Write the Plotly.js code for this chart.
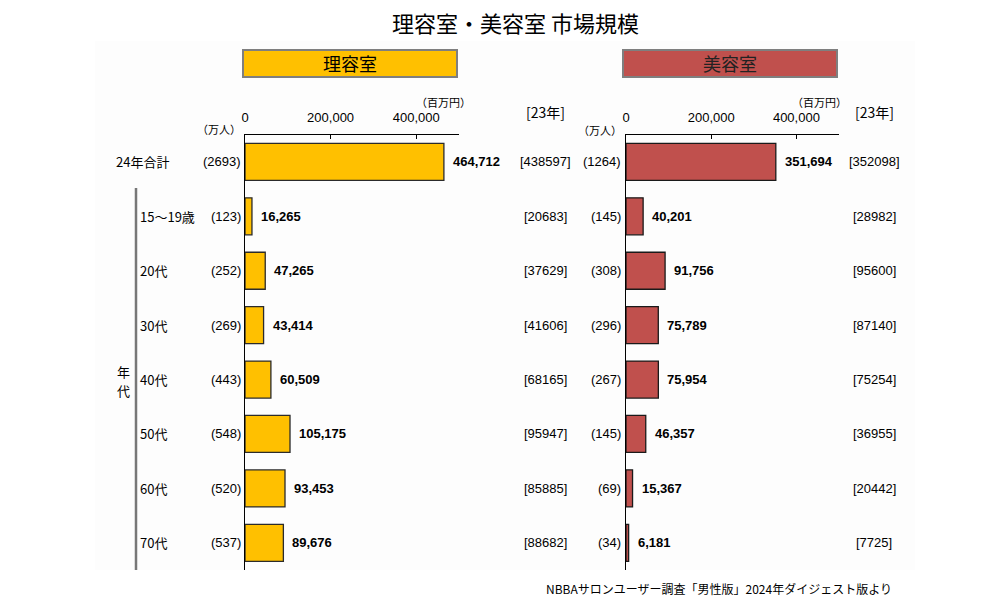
<!DOCTYPE html>
<html><head><meta charset="utf-8">
<script src="https://cdn.plot.ly/plotly-3.0.1.min.js"></script>
<style>html,body{margin:0;padding:0;background:#fff}#chart{width:1000px;height:605px}</style>
</head><body><div id="chart"></div>
<script>
const categories = ['24年合計','15〜19歳','20代','30代','40代','50代','60代','70代'];
const barberValues = [464712,16265,47265,43414,60509,105175,93453,89676];
const barberUsers = [2693,123,252,269,443,548,520,537];
const barberPrev = [438597,20683,37629,41606,68165,95947,85885,88682];
const salonValues = [351694,40201,91756,75789,75954,46357,15367,6181];
const salonUsers = [1264,145,308,296,267,145,69,34];
const salonPrev = [352098,28982,95600,87140,75254,36955,20442,7725];
const tickVals = [0,200000,400000];
const tickText = ['0','200,000','400,000'];

const W=1000,H=605;
const px = x=>x/W, py = y=>1-y/H;
const FONT = 'Liberation Sans, Arial, Noto Sans CJK JP, sans-serif';
const JFONT = 'Noto Sans CJK JP, Liberation Sans, sans-serif';
const fmt = v=>v.toLocaleString('en-US');

const traces = [
  {type:'bar',orientation:'h',y:categories,x:barberValues,xaxis:'x',yaxis:'y',
   marker:{color:'#FFC000',line:{color:'#2b2b2b',width:1.3}},hoverinfo:'x+y'},
  {type:'bar',orientation:'h',y:categories,x:salonValues,xaxis:'x2',yaxis:'y2',
   marker:{color:'#C0504D',line:{color:'#1a1a1a',width:1.3}},hoverinfo:'x+y'}
];

const ydom=[py(570),py(134.7)];
const xaxisBase = {range:[0,500000],side:'top',showline:true,linecolor:'#000',linewidth:1,
  ticks:'inside',ticklen:4,tickcolor:'#000',tickvals:tickVals,ticktext:tickText,ticklabelstandoff:7,
  showgrid:false,zeroline:false,tickfont:{family:FONT,size:13,color:'#000'},fixedrange:true};
const yaxisBase = {type:'category',autorange:'reversed',showline:true,linecolor:'#000',linewidth:1.2,
  showticklabels:false,ticks:'',showgrid:false,zeroline:false,domain:ydom,fixedrange:true};

const ann=[];
const shapes=[];
shapes.push({type:'rect',xref:'paper',yref:'paper',x0:px(95),x1:px(915),y0:py(570),y1:py(41),
  fillcolor:'#fdfdfd',line:{width:0},layer:'below'});
shapes.push({type:'rect',xref:'paper',yref:'paper',x0:px(243),x1:px(457),y0:py(77),y1:py(50),
  fillcolor:'#FFC000',line:{color:'#7f7f7f',width:2}});
shapes.push({type:'rect',xref:'paper',yref:'paper',x0:px(623),x1:px(837),y0:py(77),y1:py(50),
  fillcolor:'#C0504D',line:{color:'#7f7f7f',width:2}});
shapes.push({type:'line',xref:'paper',yref:'paper',x0:px(136),x1:px(136),y0:py(188),y1:py(570),
  line:{color:'#777',width:2.5}});

const A=(o)=>ann.push(Object.assign({showarrow:false,borderpad:0,font:{family:FONT,size:13,color:'#000'}},o));
A({xref:'paper',yref:'paper',x:px(515),y:py(22),text:'理容室・美容室 市場規模',xanchor:'center',yanchor:'middle',
   font:{family:JFONT,size:22,color:'#000'}});
A({xref:'paper',yref:'paper',x:px(350),y:py(63.5),text:'理容室',xanchor:'center',yanchor:'middle',
   font:{family:JFONT,size:18,color:'#000'}});
A({xref:'paper',yref:'paper',x:px(730),y:py(63.5),text:'美容室',xanchor:'center',yanchor:'middle',
   font:{family:JFONT,size:18,color:'#222'}});
A({xref:'paper',yref:'paper',x:px(443),y:py(102),text:'（百万円）',xanchor:'center',yanchor:'middle',font:{family:JFONT,size:11,color:'#000'}});
A({xref:'paper',yref:'paper',x:px(819),y:py(102),text:'（百万円）',xanchor:'center',yanchor:'middle',font:{family:JFONT,size:11,color:'#000'}});
A({xref:'paper',yref:'paper',x:px(242),y:py(129),text:'（万人）',xanchor:'right',yanchor:'middle',font:{family:JFONT,size:11,color:'#000'}});
A({xref:'paper',yref:'paper',x:px(623),y:py(130),text:'（万人）',xanchor:'right',yanchor:'middle',font:{family:JFONT,size:11,color:'#000'}});
A({xref:'paper',yref:'paper',x:px(545),y:py(112),text:'[23年]',xanchor:'center',yanchor:'middle',font:{family:JFONT,size:14,color:'#000'}});
A({xref:'paper',yref:'paper',x:px(874),y:py(112),text:'[23年]',xanchor:'center',yanchor:'middle',font:{family:JFONT,size:14,color:'#000'}});
A({xref:'paper',yref:'paper',x:px(123),y:py(371),text:'年',xanchor:'center',yanchor:'middle',font:{family:JFONT,size:13,color:'#000'}});
A({xref:'paper',yref:'paper',x:px(123),y:py(390),text:'代',xanchor:'center',yanchor:'middle',font:{family:JFONT,size:13,color:'#000'}});
A({xref:'paper',yref:'paper',x:px(893),y:py(588),text:'NBBAサロンユーザー調査「男性版」2024年ダイジェスト版より',xanchor:'right',yanchor:'middle',
   font:{family:JFONT,size:12,color:'#000'}});

categories.forEach((c,i)=>{
  A({xref:'paper',yref:'y',x:px(i===0?115:139),y:c,text:c,xanchor:'left',yanchor:'middle',font:{family:JFONT,size:13,color:'#000'}});
  A({xref:'paper',yref:'y',x:px(242),y:c,text:'('+barberUsers[i]+')',xanchor:'right',yanchor:'middle'});
  A({xref:'x',yref:'y',x:barberValues[i],y:c,text:'<b>'+fmt(barberValues[i])+'</b>',xanchor:'left',xshift:8,yanchor:'middle'});
  A({xref:'paper',yref:'y',x:px(545),y:c,text:'['+barberPrev[i]+']',xanchor:'center',yanchor:'middle'});
  A({xref:'paper',yref:'y2',x:px(622),y:c,text:'('+salonUsers[i]+')',xanchor:'right',yanchor:'middle'});
  A({xref:'x2',yref:'y2',x:salonValues[i],y:c,text:'<b>'+fmt(salonValues[i])+'</b>',xanchor:'left',xshift:8,yanchor:'middle'});
  A({xref:'paper',yref:'y2',x:px(874),y:c,text:'['+salonPrev[i]+']',xanchor:'center',yanchor:'middle'});
});

const layout = {
  width:W,height:H,margin:{l:0,r:0,t:0,b:0},paper_bgcolor:'#fff',plot_bgcolor:'rgba(0,0,0,0)',
  showlegend:false,bargap:0.32,
  xaxis:Object.assign({},xaxisBase,{domain:[px(245),px(459)],anchor:'y'}),
  xaxis2:Object.assign({},xaxisBase,{domain:[px(626),px(839)],anchor:'y2'}),
  yaxis:Object.assign({},yaxisBase,{anchor:'x'}),
  yaxis2:Object.assign({},yaxisBase,{anchor:'x2',matches:'y'}),
  annotations:ann,shapes:shapes
};
Plotly.newPlot('chart',traces,layout,{displayModeBar:false,staticPlot:true});
</script></body></html>
